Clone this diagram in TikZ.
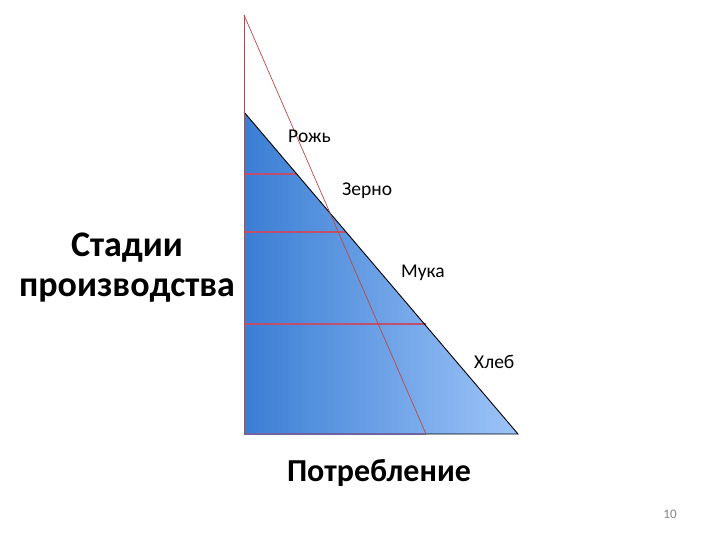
\documentclass[tikz,border=0pt]{standalone}
\usepackage{fontspec}
\setmainfont{Carlito}
\begin{document}
\begin{tikzpicture}[x=1pt,y=-1pt,
  redline/.style={draw={rgb,255:red,190;green,70;blue,70}, line width=0.7pt},
  stageline/.style={draw={rgb,255:red,190;green,80;blue,110}, line width=1.6pt},
  lbl/.style={font=\fontsize{19.5}{22}\selectfont, anchor=west, inner sep=0pt},
  big/.style={font=\fontsize{36}{40}\selectfont\bfseries, align=center, inner sep=0pt}]
\useasboundingbox (0,0) rectangle (720,540);
\definecolor{bleft}{RGB}{58,126,212}
\definecolor{bright}{RGB}{158,196,248}
\coordinate (top) at (244,15);
\coordinate (apex) at (244,112);
\coordinate (bl) at (244,434);
\coordinate (br) at (518,434);
\coordinate (rb) at (426,434);
\shade[left color=bleft, right color=bright] (apex) -- (bl) -- (br) -- cycle;
% stage lines
\coordinate (s1a) at (244,174); \coordinate (s1b) at (296.8,174);
\coordinate (s2a) at (244,232); \coordinate (s2b) at (346,232);
\coordinate (s3a) at (244,324); \coordinate (s3b) at (425.6,324);
\draw[stageline] (s1a) -- (s1b);
\draw[stageline] (s2a) -- (s2b);
\draw[stageline] (s3a) -- (s3b);
\draw[black, line width=0.9pt] (apex) -- (br) -- (rb);
\draw[draw={rgb,255:red,110;green,100;blue,160}, line width=1.2pt] (bl) -- (rb);
\draw[redline] (top) -- (bl);
\draw[redline] (top) -- (rb);
\node[lbl] (rozh) at (288,136) {Рожь};
\node[lbl] (zerno) at (342,191) {Зерно};
\node[lbl] (muka) at (401,273) {Мука};
\node[lbl] (hleb) at (474,362) {Хлеб};
\node[big] (stad) at (127,268) {Стадии\\производства};
\node[font=\fontsize{32}{36}\selectfont\bfseries, inner sep=0pt] (potr) at (379,473) {Потребление};
\node[font=\fontsize{13}{15}\selectfont, text={rgb,255:red,130;green,130;blue,130}, inner sep=0pt] (num) at (670,514) {10};
\end{tikzpicture}
\end{document}
